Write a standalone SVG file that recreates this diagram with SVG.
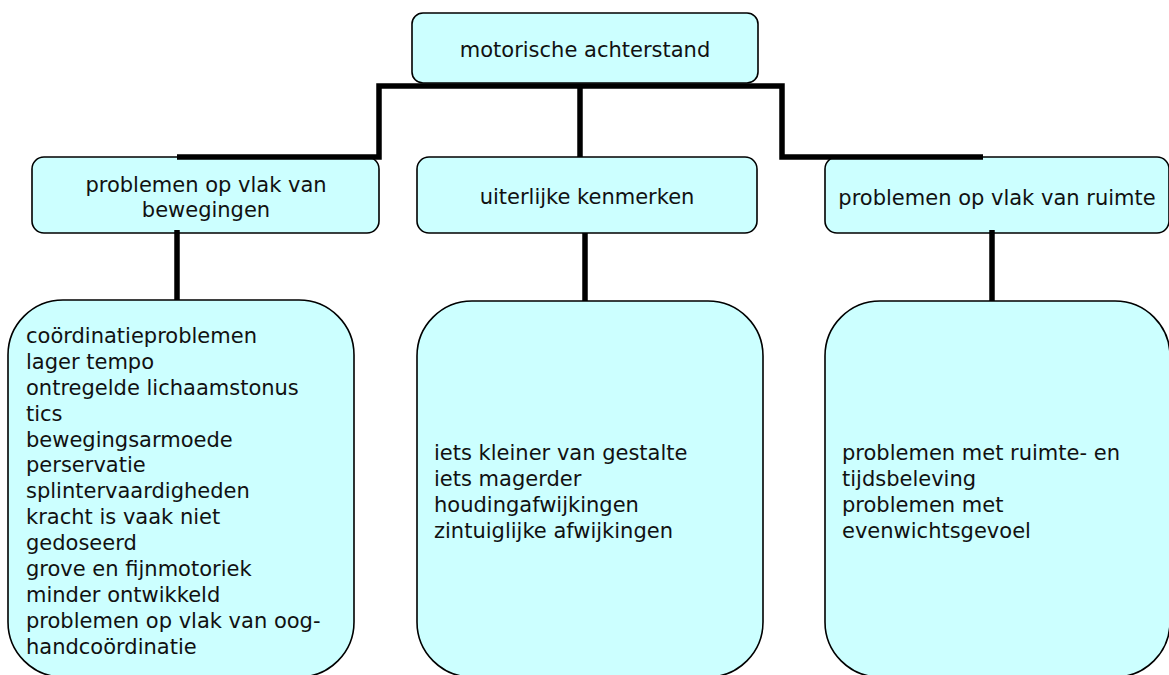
<svg xmlns="http://www.w3.org/2000/svg" width="1169" height="675" viewBox="0 0 1169 675">
<style>
.box{fill:#CCFFFF;stroke:#000;stroke-width:1.6}
.t{font-family:"DejaVu Sans","Liberation Sans",sans-serif;font-size:21px;fill:#111}
.c{text-anchor:middle}
.conn{fill:none;stroke:#000;stroke-width:5.5;stroke-linejoin:miter;stroke-linecap:butt}
</style>
<rect x="0" y="0" width="1169" height="675" fill="#fff"/>
<g id="root">
<rect class="box" x="412" y="13" width="346" height="70" rx="11"/>
<text class="t c" x="585" y="57">motorische achterstand</text>
</g>
<g id="bewegingen">
<rect class="box" x="32" y="157" width="347" height="76" rx="12"/>
<text class="t c" x="206" y="192">problemen op vlak van</text>
<text class="t c" x="206" y="217">bewegingen</text>
</g>
<g id="uiterlijk">
<rect class="box" x="417" y="157" width="340" height="76" rx="12"/>
<text class="t c" x="587" y="204">uiterlijke kenmerken</text>
</g>
<g id="ruimte">
<rect class="box" x="825" y="157" width="344" height="76" rx="12"/>
<text class="t c" x="997" y="205">problemen op vlak van ruimte</text>
</g>
<g id="lijst-bewegingen">
<rect class="box" x="8" y="300" width="346" height="377" rx="55"/>
<text class="t" x="26" y="343">coördinatieproblemen</text>
<text class="t" x="26" y="369">lager tempo</text>
<text class="t" x="26" y="395">ontregelde lichaamstonus</text>
<text class="t" x="26" y="421">tics</text>
<text class="t" x="26" y="447">bewegingsarmoede</text>
<text class="t" x="26" y="472">perservatie</text>
<text class="t" x="26" y="498">splintervaardigheden</text>
<text class="t" x="26" y="524">kracht is vaak niet</text>
<text class="t" x="26" y="550">gedoseerd</text>
<text class="t" x="26" y="576">grove en fijnmotoriek</text>
<text class="t" x="26" y="602">minder ontwikkeld</text>
<text class="t" x="26" y="628">problemen op vlak van oog-</text>
<text class="t" x="26" y="654">handcoördinatie</text>
</g>
<g id="lijst-uiterlijk">
<rect class="box" x="417" y="301" width="346" height="376" rx="55"/>
<text class="t" x="434" y="460">iets kleiner van gestalte</text>
<text class="t" x="434" y="486">iets magerder</text>
<text class="t" x="434" y="512">houdingafwijkingen</text>
<text class="t" x="434" y="538">zintuiglijke afwijkingen</text>
</g>
<g id="lijst-ruimte">
<rect class="box" x="825" y="301" width="345" height="376" rx="55"/>
<text class="t" x="842" y="460">problemen met ruimte- en</text>
<text class="t" x="842" y="486">tijdsbeleving</text>
<text class="t" x="842" y="512">problemen met</text>
<text class="t" x="842" y="538">evenwichtsgevoel</text>
</g>
<g id="connectors">
<polyline class="conn" points="177,157 379,157 379,86 782,86 782,157 983,157"/>
<line class="conn" x1="580" y1="86" x2="580" y2="157"/>
<line class="conn" x1="177" y1="230" x2="177" y2="300"/>
<line class="conn" x1="585" y1="233" x2="585" y2="301"/>
<line class="conn" x1="992" y1="230" x2="992" y2="301"/>
</g>
</svg>
